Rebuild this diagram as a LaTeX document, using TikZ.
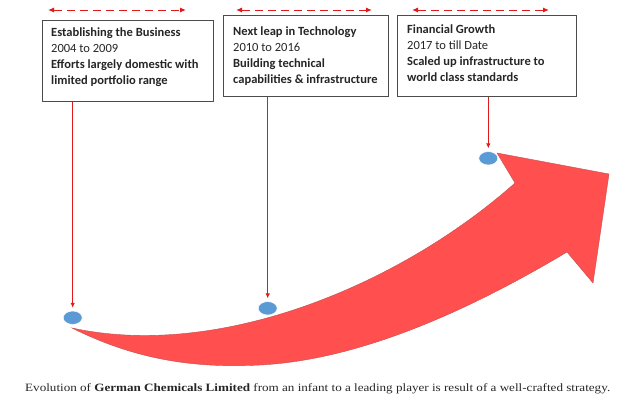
\documentclass[tikz,border=0pt]{standalone}
\usepackage{fontspec}
\setmainfont{Liberation Serif}
\newfontfamily\boxfont{Carlito}
\usetikzlibrary{arrows.meta,shapes.geometric}
\definecolor{arrowred}{HTML}{FF4F4F}
\definecolor{arrowedge}{HTML}{C0504D}
\definecolor{dotblue}{HTML}{5B9BD5}
\definecolor{linkred}{HTML}{E01A1A}
\begin{document}
\begin{tikzpicture}[x=1pt,y=-1pt,
  stagebox/.style={draw=black!70, line width=0.8pt, fill=white, inner sep=0pt,
    anchor=north west, minimum height=81pt},
  stagetext/.style={anchor=base west, inner sep=0pt, align=left,
    font=\boxfont\fontsize{12.5}{16}\selectfont, text=black!85},
  spanarrow/.style={linkred, line width=1pt, dash pattern=on 8pt off 5pt,
    {Latex[length=6pt,width=5pt]}-{Latex[length=6pt,width=5pt]}},
  droparrow/.style={linkred, line width=0.8pt, shorten >=3pt,
    -{Latex[length=5pt,width=4.5pt]}},
  dot/.style={ellipse, fill=dotblue, draw=white, line width=0.5pt,
    minimum width=19pt, minimum height=13.4pt, inner sep=0pt}]

\useasboundingbox (0,0) rectangle (623,400);

% stage boxes
\node[stagebox, minimum width=171pt] (b1) at (42,20) {};
\node[stagebox, minimum width=165pt] (b2) at (223,15) {};
\node[stagebox, minimum width=179pt] (b3) at (397,15) {};

% box texts (anchored at the baseline of the last line)
\node[stagetext] (t1) at (51,84.5) {\textbf{Establishing the Business}\\2004 to 2009\\
  \textbf{Efforts largely domestic with}\\\textbf{limited portfolio range}};
\node[stagetext] (t2) at (233,83) {\textbf{Next leap in Technology}\\2010 to 2016\\
  \textbf{Building technical}\\\textbf{capabilities \& infrastructure}};
\node[stagetext] (t3) at (407,81.5) {\textbf{Financial Growth}\\2017 to till Date\\
  \textbf{Scaled up infrastructure to}\\\textbf{world class standards}};

% period spans above the boxes
\coordinate (s1a) at (48,10);  \coordinate (s1b) at (186,10);
\coordinate (s2a) at (236,10); \coordinate (s2b) at (372,10);
\coordinate (s3a) at (412,10); \coordinate (s3b) at (549,10);
\draw[spanarrow] (s1a) -- (s1b);
\draw[spanarrow] (s2a) -- (s2b);
\draw[spanarrow] (s3a) -- (s3b);

% growth arrow
\path[fill=arrowred, draw=arrowedge, line width=0.4pt]
  (72,328) .. controls (220,360) and (400,285) .. (515,183)
  -- (497,153) -- (609,174) -- (593,283) -- (567,252)
  .. controls (470,310) and (360,360) .. (260,365)
  .. controls (200,368) and (140,362) .. (72,328) -- cycle;

% milestones on the arrow
\node[dot] (d1) at (72.7,317.7) {};
\node[dot] (d2) at (267.7,308.3) {};
\node[dot] (d3) at (488.3,158.3) {};

\draw[droparrow] (d1 |- b1.south) -- (d1.north);
\draw[droparrow] (d2 |- b2.south) -- (d2.north);
\draw[droparrow] (d3 |- b3.south) -- (d3.north);

% caption
\node[anchor=base west, inner sep=0pt, text=black!85, font=\fontsize{11.2}{13}\selectfont]
  (cap) at (25,391.7) {\scalebox{1.17}[1]{Evolution of \textbf{German Chemicals Limited} from an infant to a leading player is result of a well-crafted strategy.}};
\end{tikzpicture}
\end{document}
